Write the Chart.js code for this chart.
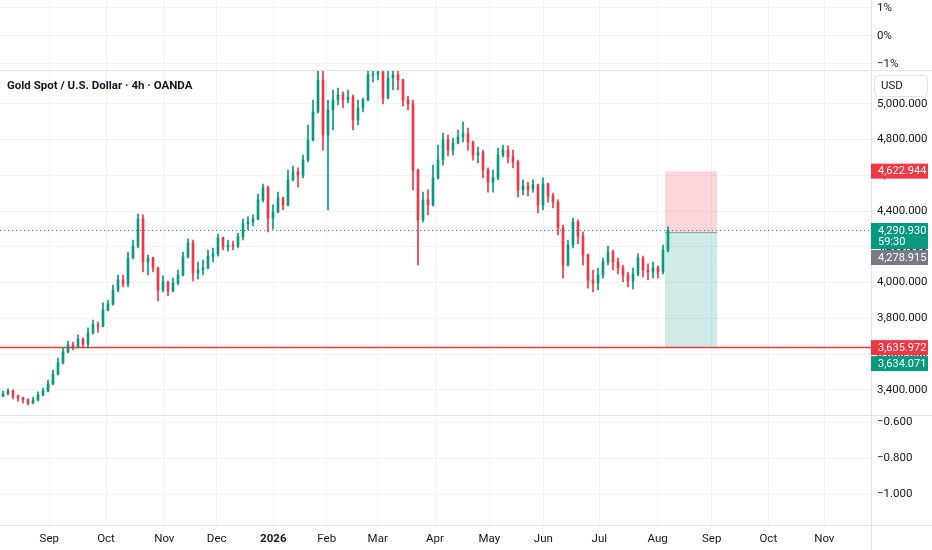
<!DOCTYPE html>
<html>
<head>
<meta charset="utf-8">
<script src="https://cdn.jsdelivr.net/npm/chart.js@4.4.1/dist/chart.umd.min.js"></script>
<style>
  html, body { margin: 0; padding: 0; background: #fff; }
  #wrap { width: 932px; height: 550px; }
</style>
</head>
<body>
<div id="wrap"><canvas id="myChart" width="932" height="550"></canvas></div>
<script>
// XAUUSD candles, one per slot
var opens = [3365,3377,3393,3365,3354,3343,3326,3343,3371,3393,
  3433,3488,3550,3612,3651,3639,3684,3656,3718,3763,
  3757,3846,3880,3958,4014,3992,4137,4204,4355,4115,
  4137,4081,3958,4003,3953,3997,4042,4143,4221,4053,
  4070,4081,4148,4160,4249,4199,4210,4204,4255,4327,
  4339,4355,4462,4529,4361,4395,4473,4434,4574,4618,
  4601,4685,4797,4954,5133,4825,4965,5021,5049,5021,
  5038,4909,4976,5021,5161,5166,5178,5032,5144,5161,
  5133,5021,4999,4629,4350,4462,4434,4585,4685,4797,
  4741,4780,4814,4831,4786,4713,4725,4629,4562,4585,
  4713,4741,4702,4674,4518,4540,4523,4546,4434,4551,
  4484,4450,4305,4098,4210,4339,4260,4154,4014,3997,
  4042,4115,4171,4115,4081,4042,4009,4048,4137,4070,
  4059,4081,4059,4182];
var highs = [3393,3405,3400,3371,3360,3350,3360,3388,3410,3455,
  3511,3578,3634,3673,3667,3707,3690,3746,3790,3779,
  3886,3902,3986,4042,4042,4171,4238,4383,4378,4154,
  4142,4086,4037,4008,4025,4070,4171,4244,4238,4115,
  4126,4182,4193,4271,4254,4238,4232,4277,4355,4367,
  4378,4495,4551,4540,4434,4506,4478,4629,4652,4641,
  4713,4881,5021,5245,5220,5021,5077,5088,5066,5077,
  5049,5021,5032,5217,5245,5245,5189,5217,5245,5217,
  5138,5043,5021,4634,4506,4518,4657,4769,4836,4825,
  4808,4853,4898,4864,4791,4758,4741,4641,4629,4752,
  4769,4764,4741,4685,4574,4562,4574,4551,4585,4556,
  4501,4462,4322,4238,4361,4350,4283,4160,4070,4081,
  4137,4204,4182,4137,4098,4059,4081,4160,4148,4104,
  4115,4093,4210,4311];
var lows = [3360,3371,3349,3337,3326,3315,3321,3338,3366,3388,
  3428,3483,3545,3607,3623,3634,3634,3634,3713,3723,
  3752,3841,3874,3947,3975,3975,4132,4193,4059,4042,
  4059,3897,3947,3925,3948,3986,4037,4137,4009,4020,
  4042,4076,4115,4148,4182,4176,4182,4193,4238,4294,
  4316,4350,4450,4283,4299,4390,4406,4428,4569,4534,
  4585,4674,4792,4949,4741,4406,4853,4993,4976,5004,
  4853,4881,4954,5016,5122,5133,4999,5027,5077,5077,
  4987,4965,4518,4098,4339,4378,4429,4580,4657,4708,
  4713,4775,4786,4741,4685,4669,4585,4506,4506,4574,
  4702,4669,4641,4478,4490,4484,4506,4389,4406,4450,
  4417,4266,4025,4093,4193,4216,4098,3969,3947,3958,
  4025,4098,4070,4048,4003,3975,3964,4037,4031,4014,
  4025,4025,4048,4171];
var closes = [3377,3393,3365,3354,3343,3326,3343,3371,3393,3433,
  3488,3550,3612,3651,3639,3684,3656,3718,3763,3757,
  3846,3880,3958,4014,3992,4137,4204,4355,4115,4137,
  4081,3958,4003,3953,3997,4042,4143,4221,4053,4070,
  4081,4148,4160,4249,4199,4210,4204,4255,4327,4339,
  4355,4462,4529,4361,4395,4473,4434,4574,4618,4601,
  4685,4797,4954,5133,4825,4965,5021,5049,5021,5038,
  4909,4976,5021,5161,5166,5178,5032,5144,5161,5133,
  5021,4999,4629,4350,4462,4434,4585,4685,4797,4741,
  4780,4814,4831,4786,4713,4725,4629,4562,4585,4713,
  4741,4702,4674,4518,4540,4523,4546,4434,4551,4484,
  4450,4305,4098,4210,4339,4260,4154,4014,3997,4042,
  4115,4171,4115,4081,4042,4009,4048,4137,4070,4059,
  4081,4059,4182,4290.93];

// time axis (slot index of each month start)
var monthPos = [9.26, 20.6, 32.26, 42.74, 54.06, 64.74, 74.94, 86.4, 97.26, 108.06, 119.26, 130.94, 141.74, 153.06, 164.26];
var monthLabels = ['Sep','Oct','Nov','Dec','2026','Feb','Mar','Apr','May','Jun','Jul','Aug','Sep','Oct','Nov'];
var xMin = -0.6, xMax = 173.6;

// price axis and the two empty panes
var priceTicks = [3400,3600,3800,4000,4200,4400,4600,4800,5000];
var pctTicks = [1, 0, -1];
var oscTicks = [-0.6, -0.8, -1.0];

// levels
var lastPrice = 4290.93;
var entryPrice = 4278.915;
var stopPrice = 4622.944;
var targetPrice = 3635.972;
var hlinePrice = 3635.972;
var hlineTag = 3634.071;
var posStart = 132.4, posEnd = 142.86;

var UP = '#089981', DOWN = '#f23645';
var fmt = function(v){ return v.toLocaleString('en-US', {minimumFractionDigits: 3, maximumFractionDigits: 3}); };

var tags = [
  {v: stopPrice, lines: [fmt(stopPrice)], color: DOWN},
  {v: lastPrice, lines: [fmt(lastPrice), '59:30'], color: UP},
  {v: entryPrice, lines: [fmt(entryPrice)], color: '#787b86'},
  {v: hlinePrice, lines: [fmt(hlinePrice)], color: DOWN},
  {v: hlineTag, lines: [fmt(hlineTag)], color: UP}
];

var wicks = [], bodies = [], colors = [];
for (var i = 0; i < closes.length; i++) {
  wicks.push({x: i, y: [lows[i], highs[i]]});
  bodies.push({x: i, y: [Math.min(opens[i], closes[i]), Math.max(opens[i], closes[i]) + 0.5]});
  colors.push(closes[i] >= opens[i] ? UP : DOWN);
}

// keep price marks inside the main pane
var paneClip = {
  id: 'paneClip',
  beforeDatasetDraw: function(chart) {
    var y = chart.scales.y, a = chart.chartArea;
    chart.ctx.save();
    chart.ctx.beginPath();
    chart.ctx.rect(a.left, y.top, a.right - a.left, y.bottom - y.top);
    chart.ctx.clip();
  },
  afterDatasetDraw: function(chart) {
    chart.ctx.restore();
  }
};

var frame = {
  id: 'frame',
  afterDraw: function(chart) {
    var ctx = chart.ctx, y = chart.scales.y, yb = chart.scales.yBot, a = chart.chartArea;
    ctx.save();
    ctx.strokeStyle = '#e0e3eb';
    ctx.lineWidth = 1;
    ctx.beginPath();
    ctx.moveTo(0, Math.round(y.top) + 0.5); ctx.lineTo(chart.width, Math.round(y.top) + 0.5);
    ctx.moveTo(0, Math.round(yb.top) + 0.5); ctx.lineTo(chart.width, Math.round(yb.top) + 0.5);
    ctx.moveTo(0, Math.round(a.bottom) + 0.5); ctx.lineTo(chart.width, Math.round(a.bottom) + 0.5);
    ctx.moveTo(Math.round(a.right) + 0.5, 0); ctx.lineTo(Math.round(a.right) + 0.5, chart.height);
    ctx.stroke();

    // title
    ctx.fillStyle = '#131722';
    ctx.font = 'bold 11.5px Roboto';
    ctx.textBaseline = 'middle';
    ctx.textAlign = 'left';
    ctx.fillText('Gold Spot / U.S. Dollar \u00b7 4h \u00b7 OANDA', 7, y.top + 16);

    // currency box
    ctx.fillStyle = '#fff';
    ctx.beginPath();
    ctx.roundRect(a.right + 3.5, y.top + 5.5, 53, 21, 4);
    ctx.fill();
    ctx.stroke();
    ctx.fillStyle = '#131722';
    ctx.font = '11.5px Roboto';
    ctx.fillText('USD', a.right + 10, y.top + 16);

    // price tags
    var prevBottom = -1000;
    tags.forEach(function(t) {
      var py = y.getPixelForValue(t.v);
      var h = 15 + (t.lines.length - 1) * 11;
      var top = Math.max(py - 7.5, prevBottom + 1);
      ctx.fillStyle = t.color;
      ctx.fillRect(a.right, top, 57, h);
      ctx.fillStyle = '#fff';
      ctx.font = '11px Roboto';
      t.lines.forEach(function(s, k) {
        ctx.fillText(s, a.right + 7, top + 8 + k * 11.5);
      });
      prevBottom = top + h;
    });
    ctx.restore();
  }
};

var lineDs = function(pts, color, extra) {
  var d = {type: 'line', data: pts, borderColor: color, borderWidth: 1, pointRadius: 0, fill: false, yAxisID: 'y', xAxisID: 'x'};
  for (var k in extra) d[k] = extra[k];
  return d;
};

// no extra layout padding from the tick labels
var noPad = function(s) {
  s.paddingTop = 0; s.paddingBottom = 0; s.paddingLeft = 0; s.paddingRight = 0;
};

var tickFont = {family: 'Roboto', size: 11.5};

var ctx = document.getElementById('myChart').getContext('2d');
var chart = new Chart(ctx, {
  type: 'bar',
  data: {
    datasets: [
      {data: bodies, backgroundColor: colors, barThickness: 2, grouped: false, yAxisID: 'y', xAxisID: 'x'},
      {data: wicks, backgroundColor: colors, barThickness: 1, grouped: false, yAxisID: 'y', xAxisID: 'x'},
      lineDs([{x: xMin, y: hlinePrice}, {x: xMax, y: hlinePrice}], DOWN, {borderWidth: 1.5}),
      lineDs([{x: xMin, y: lastPrice}, {x: xMax, y: lastPrice}], UP, {borderDash: [1, 3]}),
      lineDs([{x: posStart, y: entryPrice}, {x: posEnd, y: entryPrice}], '#9598a1', {}),
      lineDs([{x: posStart, y: stopPrice}, {x: posEnd, y: stopPrice}], 'rgba(0,0,0,0)',
        {fill: {value: entryPrice}, backgroundColor: 'rgba(242,54,69,0.2)'}),
      lineDs([{x: posStart, y: targetPrice}, {x: posEnd, y: targetPrice}], 'rgba(0,0,0,0)',
        {fill: {value: entryPrice}, backgroundColor: 'rgba(8,153,129,0.2)'})
    ]
  },
  options: {
    responsive: false,
    animation: false,
    events: [],
    layout: {padding: 0},
    plugins: {legend: {display: false}, tooltip: {enabled: false}},
    scales: {
      x: {
        type: 'linear', position: 'bottom', min: xMin, max: xMax, offset: false,
        grid: {color: '#f0f3fa', drawTicks: false, offset: false},
        border: {display: false},
        afterBuildTicks: function(s) { s.ticks = monthPos.map(function(v){ return {value: v}; }); },
        afterFit: function(s) { s.height = 25; noPad(s); },
        ticks: {
          autoSkip: false, maxRotation: 0, padding: 7, color: '#131722',
          callback: function(v, i) { return monthLabels[i]; },
          font: function(c) { return {family: 'Roboto', size: 11.5, weight: monthLabels[c.index] === '2026' ? 'bold' : 'normal'}; }
        }
      },
      yTop: {
        type: 'linear', position: 'right', stack: 'panes', stackWeight: 70,
        min: -1.2143, max: 1.2857,
        grid: {color: '#f0f3fa', drawTicks: false},
        border: {display: false},
        afterBuildTicks: function(s) { s.ticks = pctTicks.map(function(v){ return {value: v}; }); },
        afterFit: function(s) { s.width = 61; noPad(s); },
        ticks: {padding: 6, color: '#131722', font: tickFont,
          callback: function(v) { return String(v).replace('-', '\u2212') + '%'; }}
      },
      y: {
        type: 'linear', position: 'right', stack: 'panes', stackWeight: 345,
        min: 3259.1, max: 5188.7,
        grid: {color: '#f0f3fa', drawTicks: false},
        border: {display: false},
        afterBuildTicks: function(s) { s.ticks = priceTicks.map(function(v){ return {value: v}; }); },
        afterFit: function(s) { s.width = 61; noPad(s); },
        ticks: {padding: 6, color: '#131722', font: tickFont, callback: function(v) { return fmt(v); }}
      },
      yBot: {
        type: 'linear', position: 'right', stack: 'panes', stackWeight: 110,
        min: -1.1722, max: -0.5611,
        grid: {color: '#f0f3fa', drawTicks: false},
        border: {display: false},
        afterBuildTicks: function(s) { s.ticks = oscTicks.map(function(v){ return {value: v}; }); },
        afterFit: function(s) { s.width = 61; noPad(s); },
        ticks: {padding: 6, color: '#131722', font: tickFont,
          callback: function(v) { return v.toFixed(3).replace('-', '\u2212'); }}
      }
    }
  },
  plugins: [paneClip, frame]
});
</script>
</body>
</html>
